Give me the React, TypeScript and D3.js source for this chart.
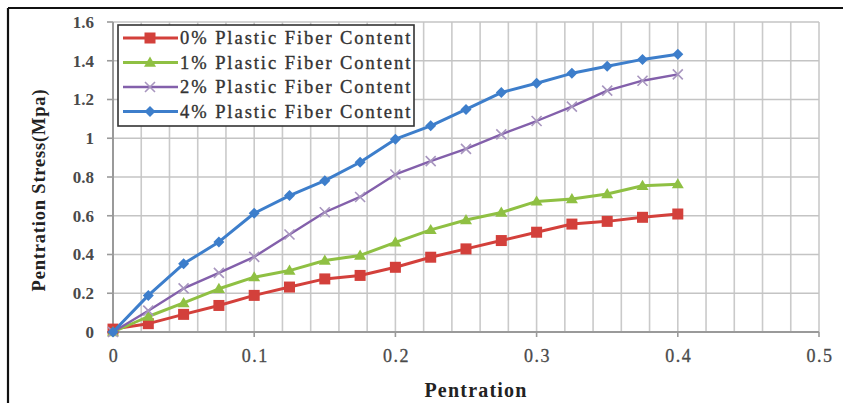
import React from "react";
import * as d3 from "d3";

const penetration = [0, 0.025, 0.05, 0.075, 0.1, 0.125, 0.15, 0.175, 0.2, 0.225, 0.25, 0.275, 0.3, 0.325, 0.35, 0.375, 0.4];
const fiber0 = [0.015, 0.043, 0.091, 0.137, 0.189, 0.232, 0.274, 0.292, 0.334, 0.386, 0.429, 0.472, 0.515, 0.557, 0.571, 0.592, 0.609];
const fiber1 = [0, 0.08, 0.15, 0.223, 0.283, 0.317, 0.369, 0.395, 0.463, 0.527, 0.578, 0.617, 0.674, 0.686, 0.712, 0.755, 0.763];
const fiber2 = [0, 0.11, 0.225, 0.305, 0.388, 0.503, 0.618, 0.697, 0.813, 0.882, 0.945, 1.02, 1.089, 1.163, 1.246, 1.297, 1.33];
const fiber4 = [0, 0.189, 0.352, 0.465, 0.613, 0.704, 0.781, 0.876, 0.995, 1.064, 1.149, 1.236, 1.284, 1.335, 1.372, 1.407, 1.434];
const seriesNames = ["0% Plastic Fiber Content", "1% Plastic Fiber Content", "2% Plastic Fiber Content", "4% Plastic Fiber Content"];
const xTicks = [0, 0.1, 0.2, 0.3, 0.4, 0.5];
const yTicks = [0, 0.2, 0.4, 0.6, 0.8, 1, 1.2, 1.4, 1.6];
const xMinorGrid = [0.02, 0.04, 0.06, 0.08, 0.1, 0.12, 0.14, 0.16, 0.18, 0.2, 0.22, 0.24, 0.26, 0.28, 0.3, 0.32, 0.34, 0.36, 0.38, 0.4, 0.42, 0.44, 0.46, 0.48, 0.5];

const colors = ["#d3403b", "#8fc043", "#8360ab", "#3d7ecb"];
const allSeries = [fiber0, fiber1, fiber2, fiber4];

const X0 = 113, X1 = 819, Y0 = 332, Y1 = 22;

function Marker({ kind, x, y, color }: { kind: number; x: number; y: number; color: string }) {
  if (kind === 0) {
    const s = 11;
    return <rect x={x - s / 2} y={y - s / 2} width={s} height={s} fill={color} />;
  }
  if (kind === 1) {
    const s = 6;
    return <path d={`M${x},${y - s}L${x + s},${y + s * 0.7}L${x - s},${y + s * 0.7}Z`} fill={color} />;
  }
  if (kind === 2) {
    const s = 5;
    return (
      <path d={`M${x - s},${y - s}L${x + s},${y + s}M${x - s},${y + s}L${x + s},${y - s}`} stroke="#a896bf" strokeWidth={1.6} fill="none" />
    );
  }
  const s = 5.5;
  return <path d={`M${x},${y - s}L${x + s},${y}L${x},${y + s}L${x - s},${y}Z`} fill={color} />;
}

export default function App() {
  const x = d3.scaleLinear().domain([0, 0.5]).range([X0, X1]);
  const y = d3.scaleLinear().domain([0, 1.6]).range([Y0, Y1]);
  const line = d3
    .line<[number, number]>()
    .x((d) => x(d[0]))
    .y((d) => y(d[1]));

  const serif = "Liberation Serif, Times New Roman, serif";

  return (
    <svg width={843} height={403} style={{ position: "absolute", left: 0, top: 0, background: "#fff" }}>
      <rect x={0} y={0} width={843} height={403} fill="#fff" />
      {/* frame */}
      <line x1={8} y1={8} x2={843} y2={8} stroke="#111" strokeWidth={2.2} />
      <line x1={8} y1={8} x2={8} y2={403} stroke="#111" strokeWidth={2.2} />

      {/* grid */}
      {xMinorGrid.map((v) => (
        <line key={"gx" + v} x1={x(v)} x2={x(v)} y1={y(1.6)} y2={y(0)} stroke="#cacaca" strokeWidth={1.6} />
      ))}
      {yTicks.slice(1).map((v) => (
        <line key={"gy" + v} x1={x(0)} x2={x(0.5)} y1={y(v)} y2={y(v)} stroke="#c4c4c4" strokeWidth={1.6} />
      ))}

      {/* axes */}
      <line x1={x(0)} x2={x(0)} y1={y(1.6)} y2={y(0)} stroke="#9a9a9a" strokeWidth={2} />
      <line x1={x(0) - 6} x2={x(0.5)} y1={y(0)} y2={y(0)} stroke="#9a9a9a" strokeWidth={2} />
      {yTicks.map((v) => (
        <line key={"ty" + v} x1={x(0) - 6} x2={x(0)} y1={y(v)} y2={y(v)} stroke="#9a9a9a" strokeWidth={1.6} />
      ))}
      {xTicks.map((v) => (
        <line key={"tx" + v} x1={x(v)} x2={x(v)} y1={y(0)} y2={y(0) + 5} stroke="#9a9a9a" strokeWidth={1.6} />
      ))}

      {/* tick labels */}
      {yTicks.map((v) => (
        <text key={"ly" + v} x={94} y={y(v)} dy="0.35em" textAnchor="end" fontFamily={serif} fontWeight="bold" fontSize={17} fill="#4a4a4a">
          {v === 0 || v === 1 ? String(v) : v.toFixed(1)}
        </text>
      ))}
      {xTicks.map((v) => (
        <text key={"lx" + v} x={x(v) + 1} y={362} textAnchor="middle" fontFamily={serif} fontSize={18} fill="#4a4a4a" stroke="#4a4a4a" strokeWidth={0.3} letterSpacing={1.5}>
          {v === 0 ? "0" : v.toFixed(1)}
        </text>
      ))}

      {/* axis titles */}
      <text x={476} y={397} textAnchor="middle" fontFamily={serif} fontWeight="bold" fontSize={20} fill="#222" letterSpacing={1.2}>
        Pentration
      </text>
      <text transform="translate(45,190) rotate(-90)" textAnchor="middle" fontFamily={serif} fontWeight="bold" fontSize={18.5} fill="#222" letterSpacing={0.8}>
        Pentration Stress(Mpa)
      </text>

      {/* series */}
      {allSeries.map((vals, i) => {
        const pts: [number, number][] = penetration.map((p, j) => [p, vals[j]]);
        return (
          <g key={"s" + i}>
            <path d={line(pts) || ""} fill="none" stroke={colors[i]} strokeWidth={i === 2 ? 2.4 : 3} strokeLinejoin="round" />
            {pts.map((p, j) => (
              <Marker key={j} kind={i} x={x(p[0])} y={y(p[1])} color={colors[i]} />
            ))}
          </g>
        );
      })}

      {/* legend */}
      <g>
        <rect x={118} y={25} width={296} height={101} fill="#fff" stroke="#333" strokeWidth={1.6} />
        {seriesNames.map((name, i) => {
          const ly = 38 + i * 24.5;
          return (
            <g key={"lg" + i}>
              <line x1={123} x2={178} y1={ly} y2={ly} stroke={colors[i]} strokeWidth={i === 2 ? 2.4 : 3} />
              <Marker kind={i} x={150} y={ly} color={colors[i]} />
              <text x={180} y={ly} dy="0.35em" fontFamily={serif} fontSize={18.5} fill="#333" stroke="#333" strokeWidth={0.35} letterSpacing={1.95}>
                {name}
              </text>
            </g>
          );
        })}
      </g>
    </svg>
  );
}
